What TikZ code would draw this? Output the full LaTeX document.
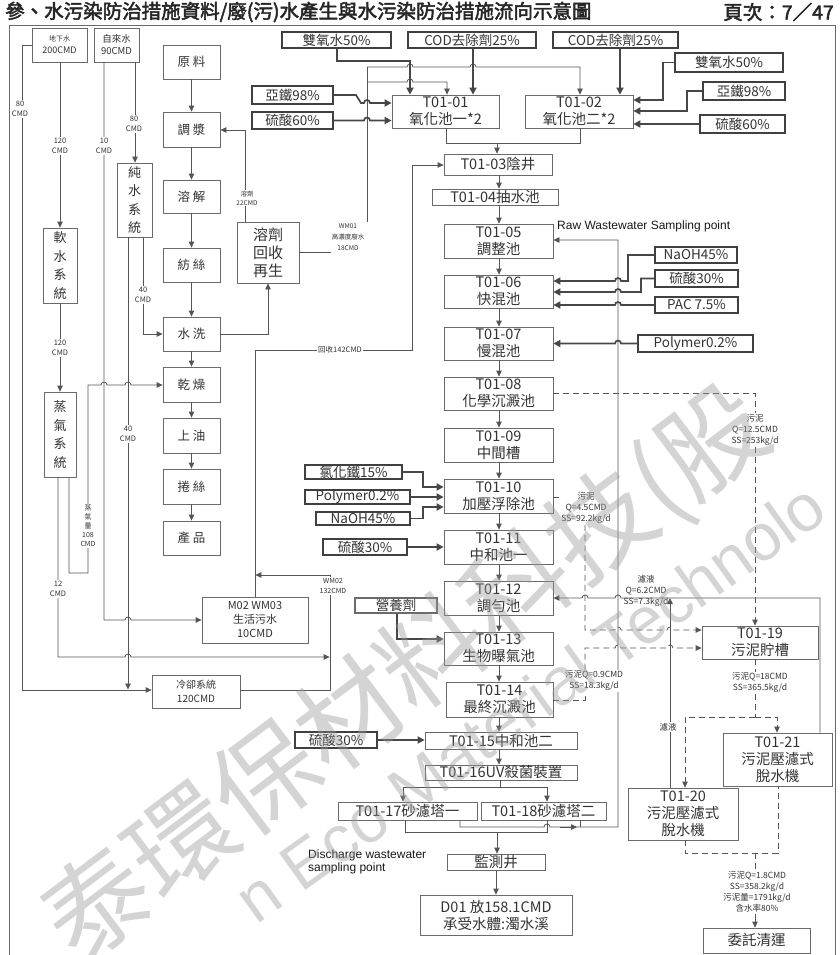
\documentclass[tikz,border=0pt]{standalone}
\usepackage{fontspec}
\setmainfont{Noto Sans CJK TC}[AutoFakeBold=2.5]
\newfontfamily\latinsans{Liberation Sans}
\usetikzlibrary{arrows.meta,calc}
\definecolor{lnc}{HTML}{555555}
\definecolor{txc}{HTML}{333333}
\definecolor{bdc}{HTML}{6A6A6A}
\tikzset{
 bx/.style={draw=bdc, line width=0.8pt, inner sep=0pt, align=center, text=txc, font=\fontsize{14.5}{17}\selectfont},
 pbox/.style={bx, font=\fontsize{12.5}{15}\selectfont},
 vbox/.style={bx, font=\fontsize{13}{18.5}\selectfont},
 chem/.style={bx, draw=black!75, line width=1.7pt, font=\fontsize{13.5}{15}\selectfont},
 wire/.style={draw=lnc, line width=0.8pt},
 arr/.style={wire, -{Triangle[length=6pt,width=5.5pt]}},
 tk/.style={draw=black!72, line width=1.7pt},
 tkarr/.style={tk, -{Triangle[length=7pt,width=7pt]}},
 dsh/.style={wire, dash pattern=on 6pt off 4pt},
 dsharr/.style={dsh, -{Triangle[length=6pt,width=5.5pt]}},
 lbl/.style={fill=white, inner sep=1pt, align=center, text=txc, font=\fontsize{7.5}{10.5}\selectfont},
 slbl/.style={lbl, font=\fontsize{8.5}{11}\selectfont},
 wmark/.style={inner sep=0, text=black!40, opacity=0.42},
}
% #1 options, #2 name, #3 x1, #4 y1, #5 x2, #6 y2, #7 text
\newcommand\mkbox[7][]{\node[bx,#1,minimum width={(#5-#3)*1pt},minimum height={(#6-#4)*1pt}] (#2) at ({(#3+#5)/2},{(#4+#6)/2}) {#7};}
\begin{document}
\begin{tikzpicture}[x=1pt,y=-1pt]
\useasboundingbox (0,0) rectangle (839,955);
\fill[white] (0,0) rectangle (839,955);

% title
\node[anchor=west, inner sep=0, text=black!85, font=\fontsize{19.5}{21}\selectfont\bfseries] (title) at (5,12) {參、水污染防治措施資料/廢(污)水產生與水污染防治措施流向示意圖};
\node[anchor=east, inner sep=0, text=black!85, font=\fontsize{19.5}{21}\selectfont\bfseries] (page) at (834,12) {頁次：7／47};
\draw[bdc, line width=1pt] (9,955) -- (9,26) -- (835,26) -- (835,955);

% left water sources
\mkbox[font=\fontsize{9}{12}\selectfont]{dxs}{32}{28}{87}{62}{{\fontsize{7}{9}\selectfont 地下水}\\200CMD}
\mkbox[font=\fontsize{9.5}{12}\selectfont]{zls}{94}{28}{139}{62}{自來水\\90CMD}
\mkbox[vbox]{rs}{43}{228}{77}{303}{軟\\水\\系\\統}
\mkbox[vbox]{zq}{44}{392}{76}{477}{蒸\\氣\\系\\統}
\mkbox[vbox]{cs}{117}{163}{152}{237}{純\\水\\系\\統}
\mkbox[font=\fontsize{10}{14}\selectfont]{lq}{152}{675}{240}{708}{冷卻系統\\120CMD}
\mkbox[font=\fontsize{11}{14}\selectfont]{m02}{202}{597}{308}{643}{M02 WM03\\生活污水\\10CMD}

% production line
\mkbox[pbox]{yl}{163}{45}{220}{79}{原 料}
\mkbox[pbox]{tj}{163}{112}{220}{147}{調 漿}
\mkbox[pbox]{rj}{163}{180}{220}{213}{溶 解}
\mkbox[pbox]{fs}{163}{248}{220}{282}{紡 絲}
\mkbox[pbox]{sx}{163}{317}{220}{351}{水 洗}
\mkbox[pbox]{gz}{163}{367}{220}{402}{乾 燥}
\mkbox[pbox]{sy}{163}{418}{220}{453}{上 油}
\mkbox[pbox]{js}{163}{469}{220}{504}{捲 絲}
\mkbox[pbox]{cp}{163}{521}{220}{555}{產 品}
\mkbox[font=\fontsize{15}{18}\selectfont]{rjhs}{237}{222}{299}{283}{溶劑\\回收\\再生}

% chemical boxes
\mkbox[chem]{sy1}{282}{32}{391}{48}{雙氧水50\%}
\mkbox[chem]{cod1}{408}{32}{536}{48}{COD去除劑25\%}
\mkbox[chem]{cod2}{553}{32}{678}{48}{COD去除劑25\%}
\mkbox[chem]{sy2}{675}{53}{783}{72}{雙氧水50\%}
\mkbox[chem]{yt2}{703}{82}{785}{100}{亞鐵98\%}
\mkbox[chem]{ls2}{700}{115}{785}{133}{硫酸60\%}
\mkbox[chem]{yt1}{252}{86}{333}{104}{亞鐵98\%}
\mkbox[chem]{ls1}{252}{112}{333}{129}{硫酸60\%}
\mkbox[chem]{na1}{655}{247}{737}{263}{NaOH45\%}
\mkbox[chem]{ls5}{655}{270}{738}{287}{硫酸30\%}
\mkbox[chem]{pac}{655}{297}{738}{313}{PAC 7.5\%}
\mkbox[chem]{pm1}{638}{335}{753}{352}{Polymer0.2\%}
\mkbox[chem]{fe}{305}{465}{402}{479}{氯化鐵15\%}
\mkbox[chem]{pm2}{305}{490}{410}{504}{Polymer0.2\%}
\mkbox[chem]{na2}{316}{512}{410}{525}{NaOH45\%}
\mkbox[chem]{ls3}{323}{539}{407}{555}{硫酸30\%}
\mkbox[bx,line width=1.2pt,font=\fontsize{13.5}{15}\selectfont]{yyj}{355}{598}{437}{613}{營養劑}
\mkbox[chem]{ls4}{295}{732}{377}{748}{硫酸30\%}

% treatment boxes
\mkbox{t0101}{392}{95}{499}{128}{T01-01\\氧化池一*2}
\mkbox{t0102}{525}{95}{633}{128}{T01-02\\氧化池二*2}
\mkbox{t0103}{444}{154}{552}{175}{T01-03陰井}
\mkbox{t0104}{432}{189}{558}{205}{T01-04抽水池}
\mkbox{t0105}{444}{224}{553}{258}{T01-05\\調整池}
\mkbox{t0106}{444}{275}{553}{308}{T01-06\\快混池}
\mkbox{t0107}{444}{327}{553}{360}{T01-07\\慢混池}
\mkbox{t0108}{444}{377}{553}{410}{T01-08\\化學沉澱池}
\mkbox{t0109}{444}{428}{553}{462}{T01-09\\中間槽}
\mkbox{t0110}{444}{479}{553}{513}{T01-10\\加壓浮除池}
\mkbox{t0111}{444}{530}{553}{564}{T01-11\\中和池一}
\mkbox{t0112}{444}{581}{553}{615}{T01-12\\調勻池}
\mkbox{t0113}{444}{632}{553}{665}{T01-13\\生物曝氣池}
\mkbox{t0114}{446}{682}{553}{717}{T01-14\\最終沉澱池}
\mkbox{t0115}{425}{732}{577}{749}{T01-15中和池二}
\mkbox{t0116}{425}{765}{577}{780}{T01-16UV殺菌裝置}
\mkbox{t0117}{338}{802}{477}{820}{T01-17砂濾塔一}
\mkbox{t0118}{481}{802}{606}{820}{T01-18砂濾塔二}
\mkbox{jc}{447}{854}{545}{870}{監測井}
\mkbox{d01}{420}{895}{572}{935}{D01 放158.1CMD\\承受水體:濁水溪}
\mkbox{t0119}{702}{626}{818}{659}{T01-19\\污泥貯槽}
\mkbox{t0121}{723}{733}{832}{786}{T01-21\\污泥壓濾式\\脫水機}
\mkbox{t0120}{628}{788}{738}{840}{T01-20\\污泥壓濾式\\脫水機}
\mkbox{wt}{703}{928}{810}{953}{委託清運}

% production line arrows
\foreach \a/\b in {yl/tj,tj/rj,rj/fs,fs/sx,sx/gz,gz/sy,sy/js,js/cp} \draw[arr] (\a) -- (\b);
\draw[arr] (rjhs.north -| 245,0) -- (245,130) -- (tj.east |- 0,130);
\node[lbl, font=\fontsize{6.5}{9}\selectfont] (l22) at (247,198) {溶劑\\22CMD};
\draw[arr] (sx.east |- 0,334) -- (268,334) -- (rjhs.south -| 268,0);

% WM01
\node[lbl, fill=none, font=\fontsize{6.5}{11}\selectfont] (wm01) at (348,237) {WM01\\高濃度廢水\\18CMD};
\draw[wire] (rjhs.east |- 0,252) -- (wm01.west |- 0,252);
\draw[wire] (wm01.north -| 367,0) -- (367,67);
\draw[arr] (367,82) -- (407,82) arc[start angle=180,end angle=0,radius=3pt] -- (447,82) -- (t0101.north -| 447,0);
\draw[arr] (367,67) -- (407,67) arc[start angle=180,end angle=0,radius=3pt] -- (470,67) arc[start angle=180,end angle=0,radius=3pt] -- (580,67) -- (t0102.north -| 580,0);

% chemicals to oxidation tanks
\draw[tkarr] (sy1.south -| 337,0) -- (337,61) -- (410,61) -- (t0101.north -| 410,0);
\draw[tkarr] (cod1.south -| 473,0) -- (t0101.north -| 473,0);
\draw[tkarr] (cod2.south -| 620,0) -- (t0102.north -| 620,0);
\draw[tkarr] (sy2.west) -- (sy2.west -| 663,0) -- (663,100) -- (t0102.east |- 0,100);
\draw[tkarr] (yt2.west) -- (yt2.west -| 687,0) -- (687,111) -- (t0102.east |- 0,111);
\draw[tkarr] (ls2.west) -- (t0102.east |- ls2.west);
\draw[tkarr] (yt1.east) -- (356,95) -- (361,103) -- (364,103) arc[start angle=180,end angle=0,radius=3pt] -- (t0101.west |- 0,103);
\draw[tkarr] (ls1.east) -- (ls1.east -| 364,0) arc[start angle=180,end angle=0,radius=3pt] -- (t0101.west |- ls1.east);

% main treatment chain
\draw[wire] (t0101.south -| 446,0) -- (446,143) -- (580,143) -- (t0102.south -| 580,0);
\draw[arr] (497,143) -- (t0103.north -| 497,0);
\foreach \a/\b in {t0103/t0104,t0104/t0105,t0105/t0106,t0106/t0107,t0107/t0108,t0108/t0109,t0109/t0110,t0110/t0111,t0111/t0112,t0112/t0113,t0113/t0114,t0114/t0115,t0115/t0116}
  \draw[arr] (\a.south -| 499,0) -- (\b.north -| 499,0);
\draw[wire] (t0116.south -| 500,0) -- (500,787);
\draw[wire] (403,787) -- (547,787);
\draw[arr] (403,787) -- (t0117.north -| 403,0);
\draw[arr] (547,787) -- (t0118.north -| 547,0);
\draw[wire] (t0117.south -| 405,0) -- (405,832) -- (547,832) -- (t0118.south -| 547,0);
\draw[arr] (497,832) -- (jc.north -| 497,0);
\draw[arr] (jc) -- (d01);

% backwash back to T01-05
\draw[wire] (t0118.south -| 580,0) -- (580,827);
\draw[arr] (t0117.south -| 460,0) -- (460,827) -- (544,827) arc[start angle=180,end angle=0,radius=3pt] -- (618,827) -- (618,240) -- (t0105.east |- 0,240);
\draw[arr] (560,827) -- (577,827);
\node[anchor=west, inner sep=0, text=black!90, font=\latinsans\fontsize{12}{14}\selectfont] (raw) at (557,226) {Raw Wastewater Sampling point};
\node[anchor=north west, inner sep=0, align=left, text=black!90, font=\latinsans\fontsize{12}{11}\selectfont] (dis) at (308,850) {Discharge wastewater\\sampling point};

% chemicals to T01-06 / T01-07
\draw[tkarr] (na1.west) -- (na1.west -| 628,0) -- (628,281) -- (621,281) arc[start angle=0,end angle=180,radius=3pt] -- (t0106.east |- 0,281);
\draw[tkarr] (ls5.west) -- (ls5.west -| 641,0) -- (641,292) -- (621,292) arc[start angle=0,end angle=180,radius=3pt] -- (t0106.east |- 0,292);
\draw[tkarr] (pac.west) -- (pac.west -| 621,0) arc[start angle=0,end angle=180,radius=3pt] -- (t0106.east |- pac.west);
\draw[tkarr] (pm1.west) -- (pm1.west -| 621,0) arc[start angle=0,end angle=180,radius=3pt] -- (t0107.east |- pm1.west);

% chemicals to T01-10 .. T01-15
\draw[tkarr] (fe.east) -- (fe.east -| 423,0) -- (423,487) -- (t0110.west |- 0,487);
\draw[tkarr] (pm2.east) -- (t0110.west |- pm2.east);
\draw[tkarr] (na2.east) -- (na2.east -| 423,0) -- (423,507) -- (t0110.west |- 0,507);
\draw[tkarr] (ls3.east) -- (t0111.west |- ls3.east);
\draw[tkarr] (yyj.south -| 397,0) -- (397,639) -- (t0113.west |- 0,639);
\draw[tkarr] (ls4.east) -- (t0115.west |- ls4.east);

% sludge lines
\node[slbl] (s1) at (755,430) {污泥\\Q=12.5CMD\\SS=253kg/d};
\draw[dsh] (t0108.east |- 0,393) -- (755,393) -- (s1.north -| 755,0);
\draw[dsharr] (s1.south -| 755,0) -- (t0119.north -| 755,0);
\node[slbl] (s2) at (586,508) {污泥\\Q=4.5CMD\\SS=92.2kg/d};
\draw[dsh] (t0110.east |- 0,497) -- (s2.west |- 0,497);
\draw[dsharr] (s2.south -| 585,0) -- (585,630) -- (615,630) arc[start angle=180,end angle=0,radius=3pt] -- (667,630) arc[start angle=180,end angle=0,radius=3pt] -- (t0119.west |- 0,630);
\node[slbl] (s4) at (594,681) {污泥Q=0.9CMD\\SS=18.3kg/d};
\draw[dsh] (t0114.east |- 0,700) -- (585,700) -- (s4.south -| 585,0);
\draw[dsharr] (s4.north -| 585,0) -- (585,648) -- (615,648) arc[start angle=180,end angle=0,radius=3pt] -- (667,648) arc[start angle=180,end angle=0,radius=3pt] -- (t0119.west |- 0,648);

% filtrate back to T01-12
\draw[arr] (t0121.north -| 820,0) -- (820,598) -- (621,598) arc[start angle=0,end angle=180,radius=3pt] -- (588,598) arc[start angle=0,end angle=180,radius=3pt] -- (t0112.east |- 0,598);
\draw[arr] (t0120.north -| 670,0) -- (670,598);
\node[slbl, fill=none] (s3) at (646,591) {濾液\\Q=6.2CMD\\SS=7.3kg/d};
\node[slbl] (lv) at (668,727) {濾液};

% sludge dewatering
\node[slbl] (s5) at (760,683) {污泥Q=18CMD\\SS=365.5kg/d};
\draw[dsh] (t0119.south -| 755,0) -- (s5.north -| 755,0);
\draw[dsh] (s5.south -| 755,0) -- (755,717);
\draw[dsharr] (755,717) -- (777,717) -- (t0121.north -| 777,0);
\draw[dsharr] (755,717) -- (685,717) -- (t0120.north -| 685,0);
\draw[dsh] (t0120.south -| 685,0) -- (685,853) -- (778,853) -- (t0121.south -| 778,0);
\node[slbl] (s6) at (757,892) {污泥Q=1.8CMD\\SS=358.2kg/d\\污泥量=1791kg/d\\含水率80\%};
\draw[dsh] (755,853) -- (s6.north -| 755,0);
\draw[arr] (s6.south -| 755,0) -- (wt.north -| 755,0);

% left water lines
\draw[arr] (dxs.west |- 0,45) -- (22,45) -- (22,690) -- (lq.west |- 0,690);
\node[lbl] (l80a) at (20,109) {80\\CMD};
\draw[arr] (dxs.south -| 60,0) -- (rs.north -| 60,0);
\node[lbl] (l120a) at (60,146) {120\\CMD};
\draw[arr] (rs) -- (zq);
\node[lbl] (l120b) at (60,348) {120\\CMD};
\draw[arr] (zls.south -| 104,0) -- (104,620) -- (125,620) arc[start angle=180,end angle=0,radius=3pt] -- (m02.west |- 0,620);
\node[lbl] (l10) at (104,146) {10\\CMD};
\draw[arr] (zls.south -| 135,0) -- (cs.north -| 135,0);
\node[lbl] (l80b) at (134,124) {80\\CMD};
\draw[arr] (cs.south -| 143,0) -- (143,334) -- (sx.west |- 0,334);
\node[lbl] (l40a) at (143,295) {40\\CMD};
\draw[arr] (cs.south -| 128,0) -- (128,689.5);
\node[lbl] (l40b) at (128,434) {40\\CMD};
\draw[arr] (zq.south -| 69,0) -- (69,573) -- (88,573) -- (88,385) -- (101,385) arc[start angle=180,end angle=0,radius=3pt] -- (125,385) arc[start angle=180,end angle=0,radius=3pt] -- (gz.west |- 0,385);
\node[lbl, font=\fontsize{7}{9}\selectfont] (l108) at (88,526) {蒸\\氣\\量\\108\\CMD};
\draw[arr] (zq.south -| 58,0) -- (58,657) -- (125,657) arc[start angle=180,end angle=0,radius=3pt] -- (329.6,657);
\node[lbl] (l12) at (58,589) {12\\CMD};
\draw[arr] (lq.east |- 0,690) -- (330,690) -- (330,575) -- (255.4,575);
\node[lbl, font=\fontsize{7}{10}\selectfont] (wm02) at (333,586) {WM02\\132CMD};
\draw[arr] (m02.north -| 255,0) -- (255,350) -- (412,350) -- (412,165) -- (t0103.west |- 0,165);
\node[lbl] (l142) at (340,350) {回收142CMD};

% watermark
\node[wmark, rotate=37, anchor=west, font=\fontsize{105}{105}\selectfont] (wm1) at (58,940) {泰環保材料科技(股};
\node[wmark, rotate=35.5, font=\latinsans\fontsize{66}{66}\selectfont] (wm2) at (530,702) {n Eco Material Technolo};
\end{tikzpicture}
\end{document}
